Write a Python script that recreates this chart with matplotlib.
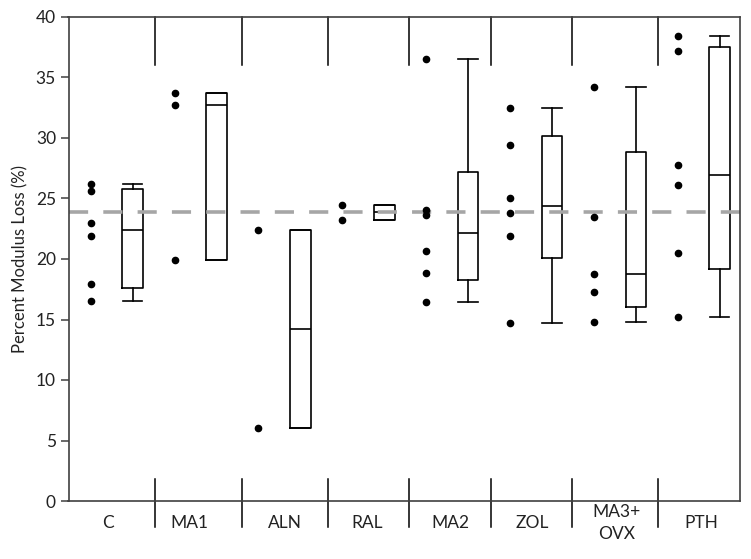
import numpy as np
import matplotlib
matplotlib.use("Agg")
import matplotlib.pyplot as plt
import matplotlib.transforms as mtransforms

# ---- data ----
groups = ["C", "MA1", "ALN", "RAL", "MA2", "ZOL", "MA3+\nOVX", "PTH"]
c_vals = [26.2, 25.6, 22.95, 21.9, 17.9, 16.55]
ma1_vals = [33.7, 32.7, 19.9]
aln_vals = [22.4, 6.0]
ral_vals = [24.5, 23.2]
ma2_vals = [36.5, 24.05, 23.66, 20.7, 18.84, 16.45]
zol_vals = [32.5, 29.4, 25.0, 23.8, 21.9, 14.7]
ma3_vals = [34.2, 23.45, 18.74, 17.27, 14.8]
pth_vals = [38.4, 37.2, 27.8, 26.1, 20.5, 15.2]
reference_level = 23.9
yticks = [0, 5, 10, 15, 20, 25, 30, 35, 40]

all_vals = [c_vals, ma1_vals, aln_vals, ral_vals, ma2_vals, zol_vals, ma3_vals, pth_vals]

# ---- layout ----
W, H = 751, 559
fig = plt.figure(figsize=(W / 100, H / 100), dpi=100)
left_px, right_px, top_px, bot_px = 68.5, 740, 17, 501
ax_h = bot_px - top_px
ax = fig.add_axes([left_px / W, 1 - bot_px / H, (right_px - left_px) / W, ax_h / H])

font = ["Lato", "DejaVu Sans"]
txt_color = "#222222"
step_px = 83.86
c0_px = 132.7
to_data = lambda px: (px - c0_px) / step_px
ax.set_xlim(to_data(left_px), to_data(right_px))
ax.set_ylim(0, 40)

# boxes (quartiles by the (n+1)p rule)
stats = []
for v in all_vals:
    a = np.asarray(v)
    q1, med, q3 = np.percentile(a, [25, 50, 75], method="weibull")
    stats.append(dict(med=med, q1=q1, q3=q3, whislo=a.min(), whishi=a.max(), fliers=[]))
pos = np.arange(len(groups))
lp = dict(color="black", linewidth=1.2)
ax.bxp(stats, positions=pos, widths=0.245, capwidths=0.23, showfliers=False,
       boxprops=lp, whiskerprops=lp, capprops=lp, medianprops=lp, manage_ticks=False)

# dots
for i, v in enumerate(all_vals):
    ax.plot(np.full(len(v), i - 0.5), v, "o", color="black", markersize=4.5, zorder=3)

# dashed reference line
ax.axhline(reference_level, color="#a6a6a6", linewidth=2.6, dashes=(5.3, 4.2), zorder=2.5)

# separators
sep_px = [155, 241.7, 328.3, 409, 490.7, 572.3, 658.3]
trans = mtransforms.blended_transform_factory(ax.transData, ax.transAxes)
top_len = (65 - top_px) / ax_h
for s in sep_px:
    x = to_data(s)
    ax.plot([x, x], [1, 1 - top_len], transform=trans, color="black", lw=1.1, clip_on=False)
    ax.plot([x, x], [(bot_px - 479) / ax_h, -(527 - bot_px) / ax_h],
            transform=trans, color="black", lw=1.1, clip_on=False)

# category labels (vertically centred under the axis)
lab_px = [108, 189, 285, 367, 450, 532, 617, 701]
ax.set_xticks([])
for p, g in zip(lab_px, groups):
    ax.text(to_data(p), -(523 - bot_px) / ax_h, g, transform=trans, ha="center", va="center",
            fontsize=12.5, family=font, color=txt_color, linespacing=1.5)

ax.set_yticks(yticks)
ax.set_yticklabels([str(t) for t in yticks], fontsize=12.5, family=font, color=txt_color)
ax.tick_params(axis="y", length=6, width=1.1, color="#404040", pad=3)
ax.set_ylabel("Percent Modulus Loss (%)", fontsize=12, family=font, color=txt_color, labelpad=5)

for sp in ax.spines.values():
    sp.set_color("#404040")
    sp.set_linewidth(1.2)

fig.savefig("out.png", dpi=100)
